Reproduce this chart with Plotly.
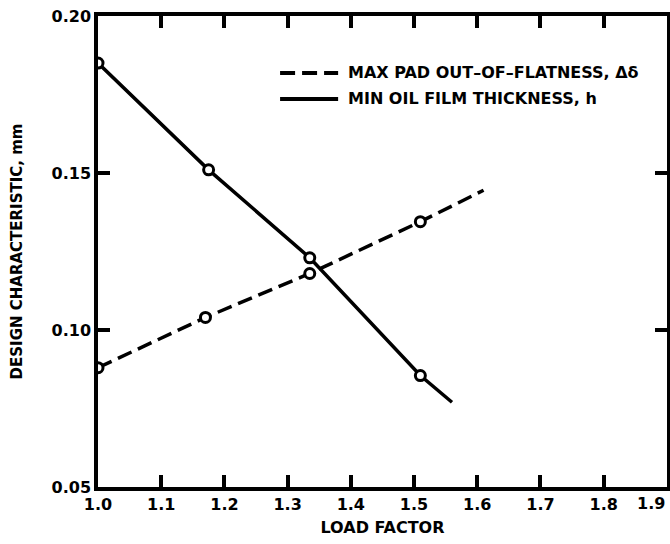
import plotly.graph_objects as go

# Load factor vs. design characteristics (mm)
film_load = [1.0, 1.175, 1.335, 1.51, 1.56]
film_thickness = [0.185, 0.151, 0.123, 0.0855, 0.077]
film_pts_load = [1.0, 1.175, 1.335, 1.51]
film_pts_val = [0.185, 0.151, 0.123, 0.0855]

flat_load = [1.0, 1.17, 1.335, 1.51, 1.61]
flat_value = [0.088, 0.104, 0.118, 0.1345, 0.1445]
flat_pts_load = [1.0, 1.17, 1.335, 1.51]
flat_pts_val = [0.088, 0.104, 0.118, 0.1345]

x_ticks = [1.0, 1.1, 1.2, 1.3, 1.4, 1.5, 1.6, 1.7, 1.8, 1.9]
y_ticks = [0.05, 0.10, 0.15, 0.20]

legend_labels = ["MAX PAD OUT\u2013OF\u2013FLATNESS, \u0394\u03b4",
                 "MIN OIL FILM THICKNESS, h"]

FONT = "DejaVu Sans"
INK = "#000000"

fig = go.Figure()

fig.add_trace(go.Scatter(x=flat_load, y=flat_value, mode="lines",
                         line=dict(color=INK, width=3.5, dash="15px,7px"),
                         showlegend=False, hoverinfo="skip"))
fig.add_trace(go.Scatter(x=film_load, y=film_thickness, mode="lines",
                         line=dict(color=INK, width=3.5),
                         showlegend=False, hoverinfo="skip"))
for xs, ys in ((flat_pts_load, flat_pts_val), (film_pts_load, film_pts_val)):
    fig.add_trace(go.Scatter(x=xs, y=ys, mode="markers",
                             marker=dict(symbol="circle", size=10, color="white",
                                         line=dict(color=INK, width=3)),
                             showlegend=False, hoverinfo="skip"))

# Hand-placed legend: line samples with labels
leg_y = [0.879, 0.824]
leg_dash = ["15px,7px", "solid"]
for yy, dash, text in zip(leg_y, leg_dash, legend_labels):
    fig.add_shape(type="line", xref="paper", yref="paper",
                  x0=0.32, x1=0.422, y0=yy, y1=yy,
                  line=dict(color=INK, width=4, dash=dash))
    fig.add_annotation(xref="paper", yref="paper", x=0.436, y=yy,
                       xanchor="left", yanchor="middle", showarrow=False,
                       text=f"<b>{text}</b>",
                       font=dict(family=FONT, size=16, color=INK))

axis_common = dict(showgrid=False, zeroline=False, showline=True, linecolor=INK,
                   linewidth=3.5, ticks="inside", ticklen=12, tickwidth=3.5,
                   tickcolor=INK, mirror="ticks",
                   tickfont=dict(family=FONT, size=16, color=INK))

# The last x label sits at the right edge, so it is right-aligned to the axis end
x_text = [f"<b>{v:.1f}</b>" for v in x_ticks]
x_text[-1] = ""

fig.update_xaxes(range=[1.0, 1.9002], tickvals=x_ticks, ticktext=x_text,
                 title=dict(text="<b>LOAD FACTOR</b>", standoff=10,
                            font=dict(family=FONT, size=16, color=INK)),
                 automargin=False, **axis_common)
fig.update_yaxes(range=[0.05, 0.20], tickvals=y_ticks,
                 ticktext=[f"<b>{v:.2f}</b>" for v in y_ticks],
                 title=dict(text="<b>DESIGN CHARACTERISTIC, mm</b>", standoff=26,
                            font=dict(family=FONT, size=15, color=INK)),
                 automargin=False, **axis_common)

fig.add_annotation(xref="paper", yref="paper", x=1.0, y=0, yshift=-5,
                   xanchor="right", yanchor="top", showarrow=False,
                   text=f"<b>{x_ticks[-1]:.1f}</b>",
                   font=dict(family=FONT, size=16, color=INK))

fig.update_layout(width=670, height=544,
                  margin=dict(l=98, r=3, t=16, b=57),
                  paper_bgcolor="white", plot_bgcolor="white",
                  showlegend=False)

fig.write_html("out.html")
